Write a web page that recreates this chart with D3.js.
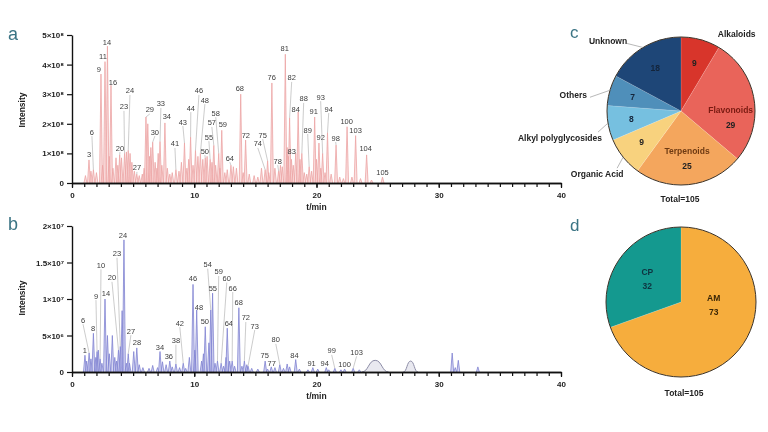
<!DOCTYPE html>
<html>
<head>
<meta charset="utf-8">
<script src="https://cdn.jsdelivr.net/npm/d3@7"></script>
<style>
  body { margin: 0; background: #fff; }
  svg { display: block; font-family: "Liberation Sans", Arial, sans-serif; will-change: transform; }
</style>
</head>
<body>
<svg id="chart" width="768" height="432"></svg>
<script>
// ---- data ----
// panel a: labelled peaks [id, peak time (min), peak height (x1e8), label time, label height]
const labeledA = [
  ["3", 1.39, 0.78, 1.39, 0.95], ["6", 1.75, 0.45, 1.63, 1.72], ["9", 2.37, 3.68, 2.2, 3.82],
  ["11", 2.7, 4.1, 2.53, 4.26], ["14", 2.9, 4.62, 2.86, 4.76], ["16", 3.19, 3.3, 3.35, 3.38],
  ["20", 3.9, 0.95, 3.92, 1.18], ["23", 4.3, 1.0, 4.25, 2.57], ["24", 4.6, 1.1, 4.74, 3.11],
  ["27", 5.3, 0.3, 5.31, 0.51], ["29", 6.05, 2.23, 6.37, 2.47], ["30", 6.6, 1.38, 6.78, 1.72],
  ["33", 7.2, 1.4, 7.27, 2.67], ["34", 7.6, 2.03, 7.76, 2.23], ["41", 8.5, 0.45, 8.42, 1.32],
  ["43", 9.2, 1.35, 9.07, 2.06], ["44", 9.7, 1.55, 9.72, 2.53], ["46", 10.1, 1.1, 10.38, 3.11],
  ["48", 10.5, 1.0, 10.87, 2.8], ["50", 10.9, 0.85, 10.87, 1.08], ["55", 11.3, 0.8, 11.2, 1.55],
  ["57", 11.6, 1.27, 11.44, 2.03], ["58", 12.0, 1.0, 11.76, 2.36], ["59", 12.25, 1.78, 12.34, 1.96],
  ["64", 13.0, 0.6, 12.91, 0.84], ["68", 13.8, 3.0, 13.73, 3.18], ["72", 14.2, 1.45, 14.22, 1.62],
  ["74", 15.8, 0.45, 15.2, 1.32], ["75", 16.0, 0.75, 15.6, 1.62], ["76", 16.35, 3.38, 16.34, 3.55],
  ["78", 16.9, 0.4, 16.83, 0.74], ["81", 17.45, 4.35, 17.4, 4.53], ["82", 17.8, 2.2, 17.97, 3.55],
  ["83", 17.7, 0.9, 17.97, 1.05], ["84", 18.5, 2.4, 18.3, 2.5], ["88", 18.8, 1.0, 18.95, 2.84],
  ["89", 19.4, 0.55, 19.28, 1.79], ["91", 19.85, 2.23, 19.77, 2.43], ["92", 20.2, 1.35, 20.34, 1.55],
  ["93", 20.5, 1.0, 20.34, 2.9], ["94", 20.9, 1.7, 21.0, 2.5], ["98", 21.6, 1.28, 21.57, 1.52],
  ["100", 22.5, 1.9, 22.47, 2.09], ["103", 23.2, 1.6, 23.2, 1.79], ["104", 24.1, 0.95, 24.02, 1.15],
  ["105", 25.4, 0.2, 25.4, 0.37]
];
// panel a: unlabelled peaks [time, height x1e8]
const minorA = [
  [1.1, 0.25], [1.55, 0.4], [2.0, 0.35], [2.5, 0.6], [3.05, 0.9], [3.35, 0.5], [3.6, 0.85],
  [3.75, 0.6], [4.05, 0.85], [4.45, 1.05], [4.75, 1.0], [4.9, 0.7], [5.1, 0.4], [5.5, 0.25],
  [5.75, 0.3], [5.9, 0.5], [6.2, 2.0], [6.35, 0.9], [6.45, 1.2], [6.8, 0.7], [6.95, 0.5],
  [7.05, 1.0], [7.35, 0.6], [7.8, 0.5], [8.0, 0.3], [8.2, 0.35], [8.75, 0.4], [8.95, 0.7],
  [9.4, 0.5], [9.55, 0.8], [9.9, 0.6], [10.3, 0.9], [10.7, 0.8], [11.05, 0.9], [11.45, 0.7],
  [11.75, 0.6], [12.1, 0.5], [12.5, 0.35], [12.7, 0.45], [13.2, 0.55], [13.45, 0.5], [14.0, 0.35],
  [14.5, 0.3], [14.9, 0.25], [15.2, 0.2], [15.5, 0.5], [16.1, 0.35], [16.6, 0.5], [17.05, 0.6],
  [17.2, 0.55], [17.6, 1.2], [17.95, 0.8], [18.1, 0.6], [18.3, 1.0], [18.65, 0.8], [19.0, 0.35],
  [19.2, 0.3], [19.6, 0.4], [20.0, 0.8], [20.35, 0.5], [20.7, 0.35], [21.2, 0.3], [21.9, 0.2],
  [22.2, 0.15], [22.9, 0.2], [23.6, 0.15], [24.5, 0.1]
];

// panel b: labelled peaks [id, peak time, peak height (x1e6), label time, label height]
const labeledB = [
  ["1", 1.06, 2.3, 1.06, 3.0], ["6", 1.4, 2.6, 0.9, 7.1], ["8", 1.75, 5.3, 1.72, 5.9],
  ["9", 2.05, 2.8, 1.96, 10.4], ["10", 2.3, 1.8, 2.37, 14.6], ["14", 2.7, 10.0, 2.78, 10.7],
  ["20", 3.8, 3.0, 3.27, 12.9], ["23", 3.95, 3.5, 3.68, 16.2], ["24", 4.25, 18.1, 4.17, 18.7],
  ["27", 4.6, 2.5, 4.82, 5.6], ["28", 5.3, 3.3, 5.31, 4.0], ["34", 7.2, 2.8, 7.19, 3.3],
  ["36", 8.0, 1.5, 7.92, 2.1], ["38", 8.5, 1.1, 8.5, 4.3], ["42", 9.1, 1.2, 8.82, 6.7],
  ["46", 9.9, 12.0, 9.89, 12.8], ["48", 10.2, 8.5, 10.38, 8.9], ["50", 10.9, 6.2, 10.87, 6.9],
  ["54", 11.35, 8.5, 11.1, 14.7], ["55", 11.5, 10.8, 11.52, 11.4], ["59", 11.9, 1.5, 12.0, 13.7],
  ["60", 12.2, 1.2, 12.66, 12.8], ["64", 12.7, 6.0, 12.83, 6.7], ["66", 13.1, 1.5, 13.15, 11.5],
  ["68", 13.65, 8.8, 13.64, 9.5], ["72", 14.1, 1.5, 14.22, 7.4], ["73", 14.4, 0.8, 14.95, 6.3],
  ["75", 15.8, 1.5, 15.77, 2.3], ["77", 16.3, 0.7, 16.34, 1.2], ["80", 17.0, 1.0, 16.67, 4.4],
  ["84", 18.3, 1.7, 18.2, 2.2], ["91", 19.7, 0.6, 19.6, 1.2], ["94", 20.8, 0.6, 20.67, 1.2],
  ["99", 21.5, 0.5, 21.24, 2.9], ["100", 22.3, 0.4, 22.3, 1.0], ["103", 23.0, 0.5, 23.28, 2.7]
];
// panel b: unlabelled peaks [time, height x1e6]
const minorB = [
  [1.2, 1.5], [1.55, 1.8], [1.95, 2.0], [2.15, 3.0], [2.45, 1.2], [2.9, 5.0], [3.05, 2.5],
  [3.3, 5.0], [3.5, 2.0], [3.65, 1.5], [4.1, 8.4], [4.45, 1.2], [4.7, 1.2], [5.05, 2.8],
  [5.5, 1.0], [5.8, 0.6], [6.3, 0.5], [6.6, 0.9], [7.0, 0.6], [7.4, 1.4], [7.7, 1.0],
  [8.2, 0.7], [8.8, 0.6], [9.3, 0.5], [9.6, 2.0], [10.05, 3.0], [10.6, 1.5], [10.75, 2.5],
  [11.2, 4.0], [11.7, 1.2], [12.4, 0.8], [12.6, 2.0], [12.9, 1.5], [13.3, 0.8], [13.9, 0.8],
  [14.3, 1.0], [14.7, 0.5], [15.2, 0.4], [16.0, 0.4], [16.6, 0.6], [17.3, 0.5], [17.6, 1.1],
  [17.8, 0.7], [18.6, 0.4], [19.3, 0.3], [20.1, 0.4], [21.0, 0.3], [22.0, 0.3], [23.5, 0.3],
  [31.1, 2.6], [31.35, 0.6], [31.6, 1.6], [33.2, 0.7]
];
// panel b: broad humps [centre time, height x1e6, half width (min)]
const humpsB = [[24.8, 1.6, 1.1], [27.7, 1.5, 0.6]];

const xTicksMajor = [0, 10, 20, 30, 40];
const yTicksA = [0, 1, 2, 3, 4, 5];
const yTickLabelsA = ["0", "1×10⁸", "2×10⁸", "3×10⁸", "4×10⁸", "5×10⁸"];
const yTicksB = [0, 5, 10, 15, 20];
const yTickLabelsB = ["0", "5×10⁶", "1×10⁷", "1.5×10⁷", "2×10⁷"];

// panel c / d
const classNames = ["Alkaloids", "Flavonoids", "Terpenoids", "Organic Acid", "Alkyl polyglycosides", "Others", "Unknown"];
const classCounts = [9, 29, 25, 9, 8, 7, 18];
const sourceNames = ["AM", "CP"];
const sourceCounts = [73, 32];

// ---- style ----
const classColors = ["#d8352b", "#e9645a", "#f4a65d", "#f8d27e", "#76c0e0", "#4f8fba", "#1e4677"];
const sourceColors = ["#f6ad3d", "#14998f"];
const LETTER_COLOR = "#3b7484";

const svg = d3.select("#chart");
const x = d3.scaleLinear().domain([0, 40]).range([72, 561]);

function drawChromatogram(opts) {
  const { y, letter, letterY, labeled, minor, humps, fill, stroke, yTicks, yLabels, labelY } = opts;
  const g = svg.append("g");
  const hw = 0.12;
  const tri = d3.line().x((d) => x(d[0])).y((d) => y(d[1]));
  const peaks = minor.concat(labeled.map((d) => [d[1], d[2]])).sort((a, b) => a[0] - b[0]);

  g.selectAll(".pk")
    .data(peaks)
    .join("path")
    .attr("class", "pk")
    .attr("d", (p) => tri([[p[0] - hw, 0], [p[0], p[1]], [p[0] + hw, 0]]))
    .attr("fill", fill)
    .attr("fill-opacity", 0.55)
    .attr("stroke", stroke)
    .attr("stroke-width", 0.8)
    .attr("stroke-linejoin", "round");

  if (humps) {
    const bump = d3.line().curve(d3.curveBumpX).x((d) => x(d[0])).y((d) => y(d[1]));
    g.selectAll(".hump")
      .data(humps)
      .join("path")
      .attr("d", (h) => bump([[h[0] - h[2], 0], [h[0], h[1]], [h[0] + h[2], 0]]))
      .attr("fill", "#c9c9da")
      .attr("fill-opacity", 0.4)
      .attr("stroke", "#8c8ca6")
      .attr("stroke-width", 1);
  }

  // leader lines + peak numbers
  labeled.forEach((d) => {
    const lx = x(d[3]), ly = y(d[4]);
    const px = x(d[1]), py = y(d[2]);
    if (py - (ly + 4) > 2) {
      g.append("line")
        .attr("x1", lx).attr("y1", ly + 4)
        .attr("x2", px).attr("y2", py)
        .attr("stroke", "#a9a9a9")
        .attr("stroke-width", 0.6);
    }
    g.append("text")
      .attr("x", lx).attr("y", ly)
      .attr("text-anchor", "middle")
      .attr("dominant-baseline", "central")
      .attr("font-size", 7.5)
      .attr("fill", "#3c3c3c")
      .text(d[0]);
  });

  // axes
  const y0 = y(0);
  const minorAxis = d3.axisBottom(x).tickValues(d3.range(0, 41)).tickFormat("").tickSize(4).tickSizeOuter(0);
  const majorAxis = d3.axisBottom(x).tickValues(xTicksMajor).tickSize(5).tickSizeOuter(0).tickPadding(4);
  const gx1 = g.append("g").attr("transform", `translate(0,${y0})`).call(minorAxis);
  const gx2 = g.append("g").attr("transform", `translate(0,${y0})`).call(majorAxis);
  const yAxis = d3.axisLeft(y).tickValues(yTicks).tickFormat((d, i) => yLabels[i]).tickSize(5).tickSizeOuter(0).tickPadding(3);
  const gy = g.append("g").attr("transform", "translate(72,0)").call(yAxis);
  [gx1, gx2, gy].forEach((a) => {
    a.select(".domain").attr("stroke", "#111").attr("stroke-width", 1.4);
    a.selectAll(".tick line").attr("stroke", "#111").attr("stroke-width", 1.2);
    a.selectAll(".tick text")
      .attr("font-family", "Liberation Sans, Arial, sans-serif")
      .attr("font-size", 8)
      .attr("font-weight", "bold")
      .attr("fill", "#222");
  });

  g.append("text")
    .attr("transform", `translate(25,${labelY}) rotate(-90)`)
    .attr("text-anchor", "middle")
    .attr("font-size", 8.5)
    .attr("font-weight", "bold")
    .attr("fill", "#222")
    .text("Intensity");
  g.append("text")
    .attr("x", x(20)).attr("y", y0 + 27)
    .attr("text-anchor", "middle")
    .attr("font-size", 8.5)
    .attr("font-weight", "bold")
    .attr("fill", "#222")
    .text("t/min");
  svg.append("text")
    .attr("x", 8).attr("y", letterY)
    .attr("font-size", 18)
    .attr("fill", LETTER_COLOR)
    .text(letter);
}

drawChromatogram({
  y: d3.scaleLinear().domain([0, 5]).range([183, 35]),
  letter: "a", letterY: 40,
  labeled: labeledA, minor: minorA,
  fill: "#f5c4c4", stroke: "#eca4a4",
  yTicks: yTicksA, yLabels: yTickLabelsA, labelY: 110
});
drawChromatogram({
  y: d3.scaleLinear().domain([0, 20]).range([372, 226]),
  letter: "b", letterY: 230,
  labeled: labeledB, minor: minorB, humps: humpsB,
  fill: "#b3b5e6", stroke: "#8083d2",
  yTicks: yTicksB, yLabels: yTickLabelsB, labelY: 298
});

// ---- pies ----
function drawPie(cx, cy, r, values, colors) {
  const g = svg.append("g").attr("transform", `translate(${cx},${cy})`);
  const arcs = d3.pie().sort(null)(values);
  const arc = d3.arc().innerRadius(0).outerRadius(r);
  g.selectAll("path")
    .data(arcs)
    .join("path")
    .attr("d", arc)
    .attr("fill", (d, i) => colors[i])
    .attr("stroke", "#ffffff")
    .attr("stroke-opacity", 0.25)
    .attr("stroke-width", 0.5);
  g.append("circle").attr("r", r).attr("fill", "none").attr("stroke", "#3a3126").attr("stroke-width", 1);
  return { g, arcs };
}

function txt(g, x0, y0, s, color, anchor) {
  return g.append("text")
    .attr("x", x0).attr("y", y0)
    .attr("text-anchor", anchor || "middle")
    .attr("dominant-baseline", "central")
    .attr("font-size", 8.5)
    .attr("font-weight", "bold")
    .attr("fill", color)
    .text(s);
}

// c
const rC = 74;
const pieC = drawPie(681, 111, rC, classCounts, classColors);
const inArc = d3.arc().innerRadius(rC * 0.68).outerRadius(rC * 0.68);
const named = { Flavonoids: [7, "#7a1b12"], Terpenoids: [-10, "#6e3a12"] };
pieC.arcs.forEach((a, i) => {
  const [px, py] = inArc.centroid(a);
  const nm = classNames[i];
  if (named[nm]) {
    txt(pieC.g, px, py + named[nm][0], nm, named[nm][1]);
    txt(pieC.g, px, py + named[nm][0] + 15, classCounts[i], "#222");
  } else {
    txt(pieC.g, px, py, classCounts[i], i >= 4 ? "#14243a" : "#222");
  }
});
// outside labels with leaders: offsets relative to the slice edge point
const outside = {
  "Alkaloids": { dx: 36, dy: -6, anchor: "middle", leader: false },
  "Unknown": { dx: -35, dy: -6, anchor: "middle", leader: [-16, -4] },
  "Others": { dx: -23, dy: 5, anchor: "end", leader: [-20, 7] },
  "Alkyl polyglycosides": { dx: -6, dy: 15, anchor: "end", leader: [-10, 9] },
  "Organic Acid": { dx: -26, dy: 17, anchor: "middle", leader: [-6, 11] }
};
pieC.arcs.forEach((a, i) => {
  const o = outside[classNames[i]];
  if (!o) return;
  const mid = (a.startAngle + a.endAngle) / 2;
  const ex = Math.sin(mid) * rC, ey = -Math.cos(mid) * rC;
  if (o.leader) {
    pieC.g.append("line")
      .attr("x1", ex).attr("y1", ey)
      .attr("x2", ex + o.leader[0]).attr("y2", ey + o.leader[1])
      .attr("stroke", "#9a9a9a").attr("stroke-width", 0.7);
  }
  txt(pieC.g, ex + o.dx, ey + o.dy, classNames[i], "#222", o.anchor);
});
txt(svg, 680, 199, "Total=" + d3.sum(classCounts), "#222");
svg.append("text").attr("x", 570).attr("y", 38).attr("font-size", 17).attr("fill", LETTER_COLOR).text("c");

// d
const rD = 75;
const pieD = drawPie(681, 302, rD, sourceCounts, sourceColors);
const dArc = d3.arc().innerRadius(rD * 0.55).outerRadius(rD * 0.55);
const dShift = [[-1, -28], [0, -6]];
pieD.arcs.forEach((a, i) => {
  const [px, py] = dArc.centroid(a);
  const c = i === 0 ? "#3a2606" : "#0f3340";
  txt(pieD.g, px + dShift[i][0], py + dShift[i][1], sourceNames[i], c);
  txt(pieD.g, px + dShift[i][0], py + dShift[i][1] + 14, sourceCounts[i], c);
});
txt(svg, 684, 393, "Total=" + d3.sum(sourceCounts), "#222");
svg.append("text").attr("x", 570).attr("y", 231).attr("font-size", 17).attr("fill", LETTER_COLOR).text("d");
</script>
</body>
</html>
